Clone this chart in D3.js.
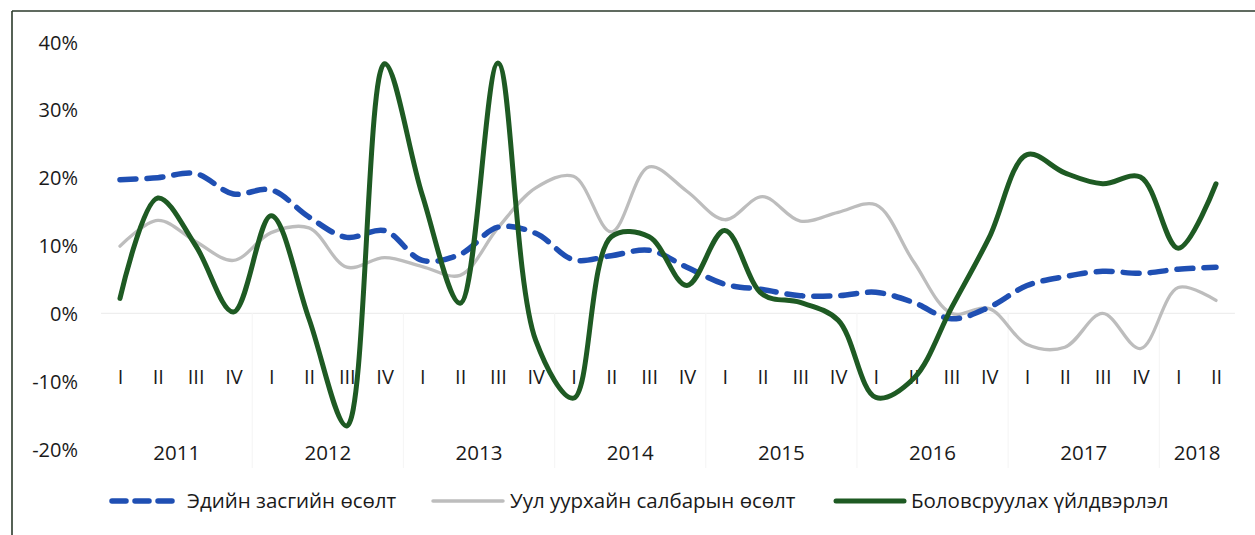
<!DOCTYPE html>
<html>
<head>
<meta charset="utf-8">
<script src="https://cdn.jsdelivr.net/npm/d3@7"></script>
<style>
  html, body { margin: 0; padding: 0; background: #fff; }
  svg { display: block; }
  text { font-family: "Open Sans", "Noto Sans", sans-serif; fill: #1a1a1a; }
</style>
</head>
<body>
<svg id="chart" width="1255" height="535"></svg>
<script>
// Quarterly growth, 2011 Q1 – 2018 Q2 (percent)
const quarters = ["I","II","III","IV","I","II","III","IV","I","II","III","IV","I","II","III","IV",
                  "I","II","III","IV","I","II","III","IV","I","II","III","IV","I","II"];
const years = ["2011","2012","2013","2014","2015","2016","2017","2018"];
const yTicks = [-20, -10, 0, 10, 20, 30, 40];

const economy = [19.7, 20.0, 20.6, 17.6, 18.2, 14.2, 11.2, 12.2, 7.8, 8.7, 12.7, 11.8,
                 7.9, 8.5, 9.3, 6.8, 4.3, 3.5, 2.6, 2.6, 3.1, 1.6, -0.8, 0.9,
                 4.1, 5.4, 6.2, 5.9, 6.5, 6.8];
const mining = [9.9, 13.7, 10.6, 7.8, 11.9, 12.6, 6.8, 8.2, 6.9, 5.6, 12.6, 18.5,
                20.2, 12.0, 21.6, 18.0, 13.8, 17.2, 13.6, 14.9, 16.0, 7.6, 0.0, 0.7,
                -4.6, -5.0, 0.0, -5.2, 3.8, 1.9];
const manufacturing = [2.2, 17.0, 10.0, 0.2, 14.4, -0.8, -16.6, 36.8, 17.4, 1.5, 36.9, -4.0,
                       -12.5, 11.3, 11.3, 4.1, 12.2, 2.8, 1.6, -1.0, -12.4, -9.6, 0.8, 11.2,
                       23.4, 20.7, 19.1, 20.1, 9.6, 19.1];

const seriesNames = ["Эдийн засгийн өсөлт", "Уул уурхайн салбарын өсөлт", "Боловсруулах үйлдвэрлэл"];

const svg = d3.select("#chart");
const W = 1255, H = 535;

// frame
svg.append("line").attr("x1", 12).attr("y1", 11).attr("x2", W).attr("y2", 11)
  .attr("stroke", "#2b3a2b").attr("stroke-width", 1.6);
svg.append("line").attr("x1", 12).attr("y1", 11).attr("x2", 12).attr("y2", H)
  .attr("stroke", "#2b3a2b").attr("stroke-width", 1.6);

const x = d3.scalePoint().domain(d3.range(quarters.length)).range([120, 1216]);
const y = d3.scaleLinear().domain([-20, 40]).range([449, 42]);
const step = x.step();

// zero line
svg.append("line")
  .attr("x1", x(0) - step / 2).attr("x2", x(quarters.length - 1) + step / 2)
  .attr("y1", y(0)).attr("y2", y(0))
  .attr("stroke", "#eeeeee").attr("stroke-width", 1.2);

// year separators
years.slice(1).forEach((yr, k) => {
  const xb = x(k * 4 + 3) + step / 2;
  svg.append("line").attr("x1", xb).attr("x2", xb)
    .attr("y1", y(0)).attr("y2", 468)
    .attr("stroke", "#f6f6f6").attr("stroke-width", 1.2);
});

// y axis labels
const yAxis = d3.axisLeft(y).tickValues(yTicks).tickFormat(d => d + "%").tickSize(0).tickPadding(0);
const gy = svg.append("g").attr("transform", "translate(78,0)").call(yAxis);
gy.select(".domain").remove();
gy.selectAll("text").style("font-size", "20px").attr("fill", "#1a1a1a").attr("dy", "0.35em");

// quarter labels
const xAxis = d3.axisBottom(x).tickFormat(i => quarters[i]).tickSize(0).tickPadding(0);
const gx = svg.append("g").attr("transform", "translate(0,367)").call(xAxis);
gx.select(".domain").remove();
gx.selectAll("text").style("font-size", "20px").attr("fill", "#1a1a1a").attr("dy", "0.35em")
  .attr("y", 10);

// year labels, centred on their quarters
years.forEach((yr, k) => {
  const first = k * 4, last = Math.min(k * 4 + 3, quarters.length - 1);
  svg.append("text")
    .attr("x", (x(first) + x(last)) / 2)
    .attr("y", 453).attr("dy", "0.35em")
    .attr("text-anchor", "middle")
    .style("font-size", "20.5px")
    .text(yr);
});

const line = d3.line()
  .x((d, i) => x(i))
  .y(d => y(d))
  .curve(d3.curveCatmullRom.alpha(0.5));

svg.append("path").datum(mining)
  .attr("d", line).attr("fill", "none")
  .attr("stroke", "#bdbdbd").attr("stroke-width", 3.3).attr("stroke-linecap", "round");

svg.append("path").datum(economy)
  .attr("d", line).attr("fill", "none")
  .attr("stroke", "#1f4fb3").attr("stroke-width", 5.5)
  .attr("stroke-dasharray", "16,11").attr("stroke-linecap", "round");

svg.append("path").datum(manufacturing)
  .attr("d", line).attr("fill", "none")
  .attr("stroke", "#1e5a23").attr("stroke-width", 5).attr("stroke-linecap", "round");

// legend
const ly = 501;
const legend = [
  { x1: 112, x2: 174, tx: 187, color: "#1f4fb3", w: 5.5, dash: "14,9" },
  { x1: 433, x2: 503, tx: 510, color: "#bdbdbd", w: 3.5, dash: null },
  { x1: 836, x2: 904, tx: 911, color: "#1e5a23", w: 5, dash: null }
];
legend.forEach((l, i) => {
  const ln = svg.append("line").attr("x1", l.x1).attr("x2", l.x2).attr("y1", ly).attr("y2", ly)
    .attr("stroke", l.color).attr("stroke-width", l.w).attr("stroke-linecap", "round");
  if (l.dash) ln.attr("stroke-dasharray", l.dash);
  svg.append("text").attr("x", l.tx).attr("y", ly).attr("dy", "0.35em")
    .style("font-size", "20.5px").text(seriesNames[i]);
});
</script>
</body>
</html>
